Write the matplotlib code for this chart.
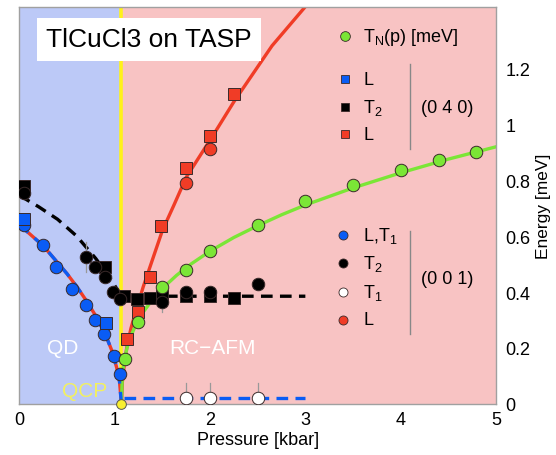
import matplotlib
matplotlib.use("Agg")
import matplotlib.pyplot as plt

plt.rcParams['font.family'] = ['Liberation Sans', 'DejaVu Sans']
plt.rcParams['mathtext.fontset'] = 'custom'
plt.rcParams['mathtext.rm'] = 'Liberation Sans'

# ---------------- data ----------------
p_c = 1.07  # quantum critical point (kbar)

# (0 4 0) squares
p_L040_blue = [0.05, 0.91]
E_L040_blue = [0.66, 0.29]
p_T2_040 = [0.05, 0.90, 1.10, 1.23, 1.37, 1.50, 1.75, 2.00, 2.25]
E_T2_040 = [0.78, 0.49, 0.385, 0.375, 0.38, 0.385, 0.385, 0.385, 0.38]
p_L040_red = [1.13, 1.24, 1.37, 1.49, 1.75, 2.00, 2.25]
E_L040_red = [0.232, 0.33, 0.453, 0.636, 0.843, 0.957, 1.107]

# (0 0 1) circles
p_LT1_001 = [0.05, 0.25, 0.38, 0.55, 0.70, 0.79, 0.89, 0.99, 1.06]
E_LT1_001 = [0.64, 0.568, 0.489, 0.41, 0.354, 0.30, 0.25, 0.171, 0.107]
p_T2_001 = [0.05, 0.70, 0.79, 0.90, 0.98, 1.05, 1.50, 1.75, 2.00, 2.50]
E_T2_001 = [0.755, 0.525, 0.49, 0.455, 0.40, 0.375, 0.365, 0.40, 0.40, 0.43]
p_T1_001 = [1.75, 2.00, 2.50]
E_T1_001 = [0.02, 0.02, 0.02]
p_L001_red = [1.75, 2.00]
E_L001_red = [0.789, 0.911]

# Neel temperature T_N(p)
p_TN = [1.11, 1.24, 1.50, 1.75, 2.00, 2.50, 3.00, 3.50, 4.00, 4.40, 4.79]
E_TN = [0.161, 0.293, 0.418, 0.479, 0.546, 0.64, 0.725, 0.782, 0.836, 0.871, 0.90]

# guide-to-the-eye curves
p_curve_TN = [1.07, 1.08, 1.10, 1.13, 1.17, 1.22, 1.30, 1.40, 1.50, 1.65, 1.80,
              2.00, 2.25, 2.50, 2.75, 3.00, 3.50, 4.00, 4.50, 5.00]
E_curve_TN = [0.0, 0.106, 0.157, 0.202, 0.243, 0.282, 0.329, 0.375, 0.413, 0.46,
              0.50, 0.546, 0.595, 0.637, 0.676, 0.711, 0.772, 0.826, 0.875, 0.919]

p_curve_L = [1.07, 1.08, 1.10, 1.13, 1.17, 1.22, 1.30, 1.40, 1.50, 1.62, 1.75,
             1.90, 2.05, 2.25, 2.45, 2.65, 2.85, 3.00]
E_curve_L = [0.0, 0.08, 0.14, 0.21, 0.27, 0.33, 0.42, 0.52, 0.62, 0.71, 0.81,
             0.89, 0.97, 1.08, 1.18, 1.28, 1.36, 1.42]

p_curve_QD = [0.0, 0.1, 0.2, 0.3, 0.4, 0.5, 0.6, 0.7, 0.8, 0.9, 0.97, 1.02, 1.05, 1.07]
E_curve_QD = [0.64, 0.61, 0.58, 0.545, 0.505, 0.465, 0.42, 0.37, 0.315, 0.25,
              0.19, 0.13, 0.08, 0.0]

p_curve_T2 = [0.0, 0.2, 0.4, 0.6, 0.8, 0.95, 1.07, 1.5, 2.0, 2.5, 3.0]
E_curve_T2 = [0.745, 0.705, 0.66, 0.60, 0.52, 0.45, 0.385, 0.385, 0.385, 0.385, 0.385]

p_curve_T1 = [1.10, 3.00]
E_curve_T1 = [0.022, 0.022]

x_ticks = [0, 1, 2, 3, 4, 5]
y_ticks = [0, 0.2, 0.4, 0.6, 0.8, 1.0, 1.2]
y_ticklabels = ['0', '0.2', '0.4', '0.6', '0.8', '1', '1.2']

# ---------------- styling ----------------
C_BLUE_BG = '#BCC9F7'
C_RED_BG = '#F8C3C3'
C_YELLOW = '#FFF21A'
C_RED = '#F03C26'
C_BLUE = '#0A5CF5'
C_GREEN = '#7BE636'
C_EDGE = '#3a2a2a'

fig = plt.figure(figsize=(5.56, 4.56), dpi=100)
ax = fig.add_axes([0.035, 0.112, 0.857, 0.870])
ax.set_xlim(0, 5)
ax.set_ylim(0, 1.418)

ax.axvspan(0, p_c, color=C_BLUE_BG, zorder=0, lw=0)
ax.axvspan(p_c, 5, color=C_RED_BG, zorder=0, lw=0)
ax.axvline(p_c, color=C_YELLOW, lw=2.6, zorder=1)

# curves
ax.plot(p_curve_QD, E_curve_QD, color=C_RED, lw=2.4, zorder=2, solid_capstyle='butt')
ax.plot(p_curve_QD, E_curve_QD, color=C_BLUE, lw=2.4, zorder=2.1, dashes=(3.5, 2.5))
ax.plot(p_curve_L, E_curve_L, color=C_RED, lw=2.4, zorder=2)
ax.plot(p_curve_TN, E_curve_TN, color=C_GREEN, lw=2.4, zorder=2)
ax.plot(p_curve_T2, E_curve_T2, color='black', lw=2.4, zorder=2, dashes=(3.5, 2.2))
ax.plot(p_curve_T1, E_curve_T1, color=C_BLUE, lw=2.4, zorder=2, dashes=(3.5, 2.2))

# error bars (thin grey)
eb = dict(color='#999999', lw=0.9, zorder=2.5)
ax.plot([0.70, 0.70], [0.47, 0.58], **eb)
ax.plot([1.50, 1.50], [0.33, 0.40], **eb)
for pp in p_T1_001:
    ax.plot([pp, pp], [0.02, 0.075], **eb)

ms_c = 9.0
ms_s = 8.0
mk = dict(linestyle='none', markeredgecolor=C_EDGE, markeredgewidth=0.7, zorder=3)
ax.plot(p_LT1_001, E_LT1_001, marker='o', ms=ms_c, color=C_BLUE, **mk)
ax.plot(p_L040_blue, E_L040_blue, marker='s', ms=ms_s, color=C_BLUE, **mk)
ax.plot(p_T2_040, E_T2_040, marker='s', ms=ms_s, color='black', **mk)
ax.plot(p_T2_001, E_T2_001, marker='o', ms=ms_c, color='black', **mk)
ax.plot(p_L040_red, E_L040_red, marker='s', ms=ms_s, color=C_RED, **mk)
ax.plot(p_L001_red, E_L001_red, marker='o', ms=ms_c, color=C_RED, **mk)
ax.plot(p_TN, E_TN, marker='o', ms=ms_c, color=C_GREEN, **mk)
ax.plot(p_T1_001, E_T1_001, marker='o', ms=ms_c, color='white', **mk)
ax.plot([p_c], [0], marker='o', ms=7, color='#F8EE30', markeredgecolor='#555',
        markeredgewidth=0.7, linestyle='none', zorder=4, clip_on=False)

# axes styling
ax.set_xticks(x_ticks)
ax.set_xticklabels([str(t) for t in x_ticks])
ax.yaxis.tick_right()
ax.yaxis.set_label_position('right')
ax.set_yticks(y_ticks)
ax.set_yticklabels(y_ticklabels)
ax.tick_params(length=0, labelsize=13, pad=7)
ax.tick_params(axis='x', pad=5)
for s in ax.spines.values():
    s.set_color('#a0a0a0')
    s.set_linewidth(1.0)
ax.set_xlabel('Pressure [kbar]', fontsize=13, labelpad=2)
ax.set_ylabel('Energy [meV]', fontsize=12.5, labelpad=4)

# region labels
ax.text(0.09, 0.142, 'QD', transform=ax.transAxes, color='white', fontsize=15,
        ha='center', va='center', zorder=5)
ax.text(0.406, 0.142, 'RC\u2212AFM', transform=ax.transAxes, color='white', fontsize=15,
        ha='center', va='center', zorder=5)
ax.text(0.136, 0.035, 'QCP', transform=ax.transAxes, color='#F2F060', fontsize=15,
        ha='center', va='center', zorder=5)

# title box
ax.text(0.272, 0.919, 'TlCuCl3 on TASP', transform=ax.transAxes, fontsize=19,
        ha='center', va='center', zorder=6,
        bbox=dict(boxstyle='square,pad=0.35', facecolor='white', edgecolor='none'))

# custom legend
lx_m = 0.683
lx_t = 0.721
lfs = 13
lm = dict(linestyle='none', markeredgecolor=C_EDGE, markeredgewidth=0.6,
          transform=ax.transAxes, zorder=6)
ax.plot([lx_m], [0.927], marker='o', ms=7, color=C_GREEN, **lm)
ax.text(lx_t, 0.927, r'T$_\mathregular{N}$(p) [meV]', transform=ax.transAxes,
        fontsize=lfs, va='center', zorder=6)

upper = [(0.819, C_BLUE, 'L'), (0.748, 'black', r'T$_\mathregular{2}$'),
         (0.680, C_RED, 'L')]
for fy, col, lab in upper:
    ax.plot([lx_m], [fy], marker='s', ms=5.5, color=col, **lm)
    ax.text(lx_t, fy, lab, transform=ax.transAxes, fontsize=lfs, va='center', zorder=6)
ax.plot([0.819, 0.819], [0.642, 0.856], color='#888888', lw=1.0,
        transform=ax.transAxes, zorder=6)
ax.text(0.842, 0.748, '(0 4 0)', transform=ax.transAxes, fontsize=lfs,
        va='center', zorder=6)

lower = [(0.426, C_BLUE, r'L,T$_\mathregular{1}$'), (0.355, 'black', r'T$_\mathregular{2}$'),
         (0.282, 'white', r'T$_\mathregular{1}$'), (0.212, C_RED, 'L')]
for fy, col, lab in lower:
    ax.plot([lx_m - 0.004], [fy], marker='o', ms=6.5, color=col, **lm)
    ax.text(lx_t, fy, lab, transform=ax.transAxes, fontsize=lfs, va='center', zorder=6)
ax.plot([0.819, 0.819], [0.176, 0.436], color='#888888', lw=1.0,
        transform=ax.transAxes, zorder=6)
ax.text(0.842, 0.315, '(0 0 1)', transform=ax.transAxes, fontsize=lfs,
        va='center', zorder=6)

fig.savefig('out.png', dpi=100)
